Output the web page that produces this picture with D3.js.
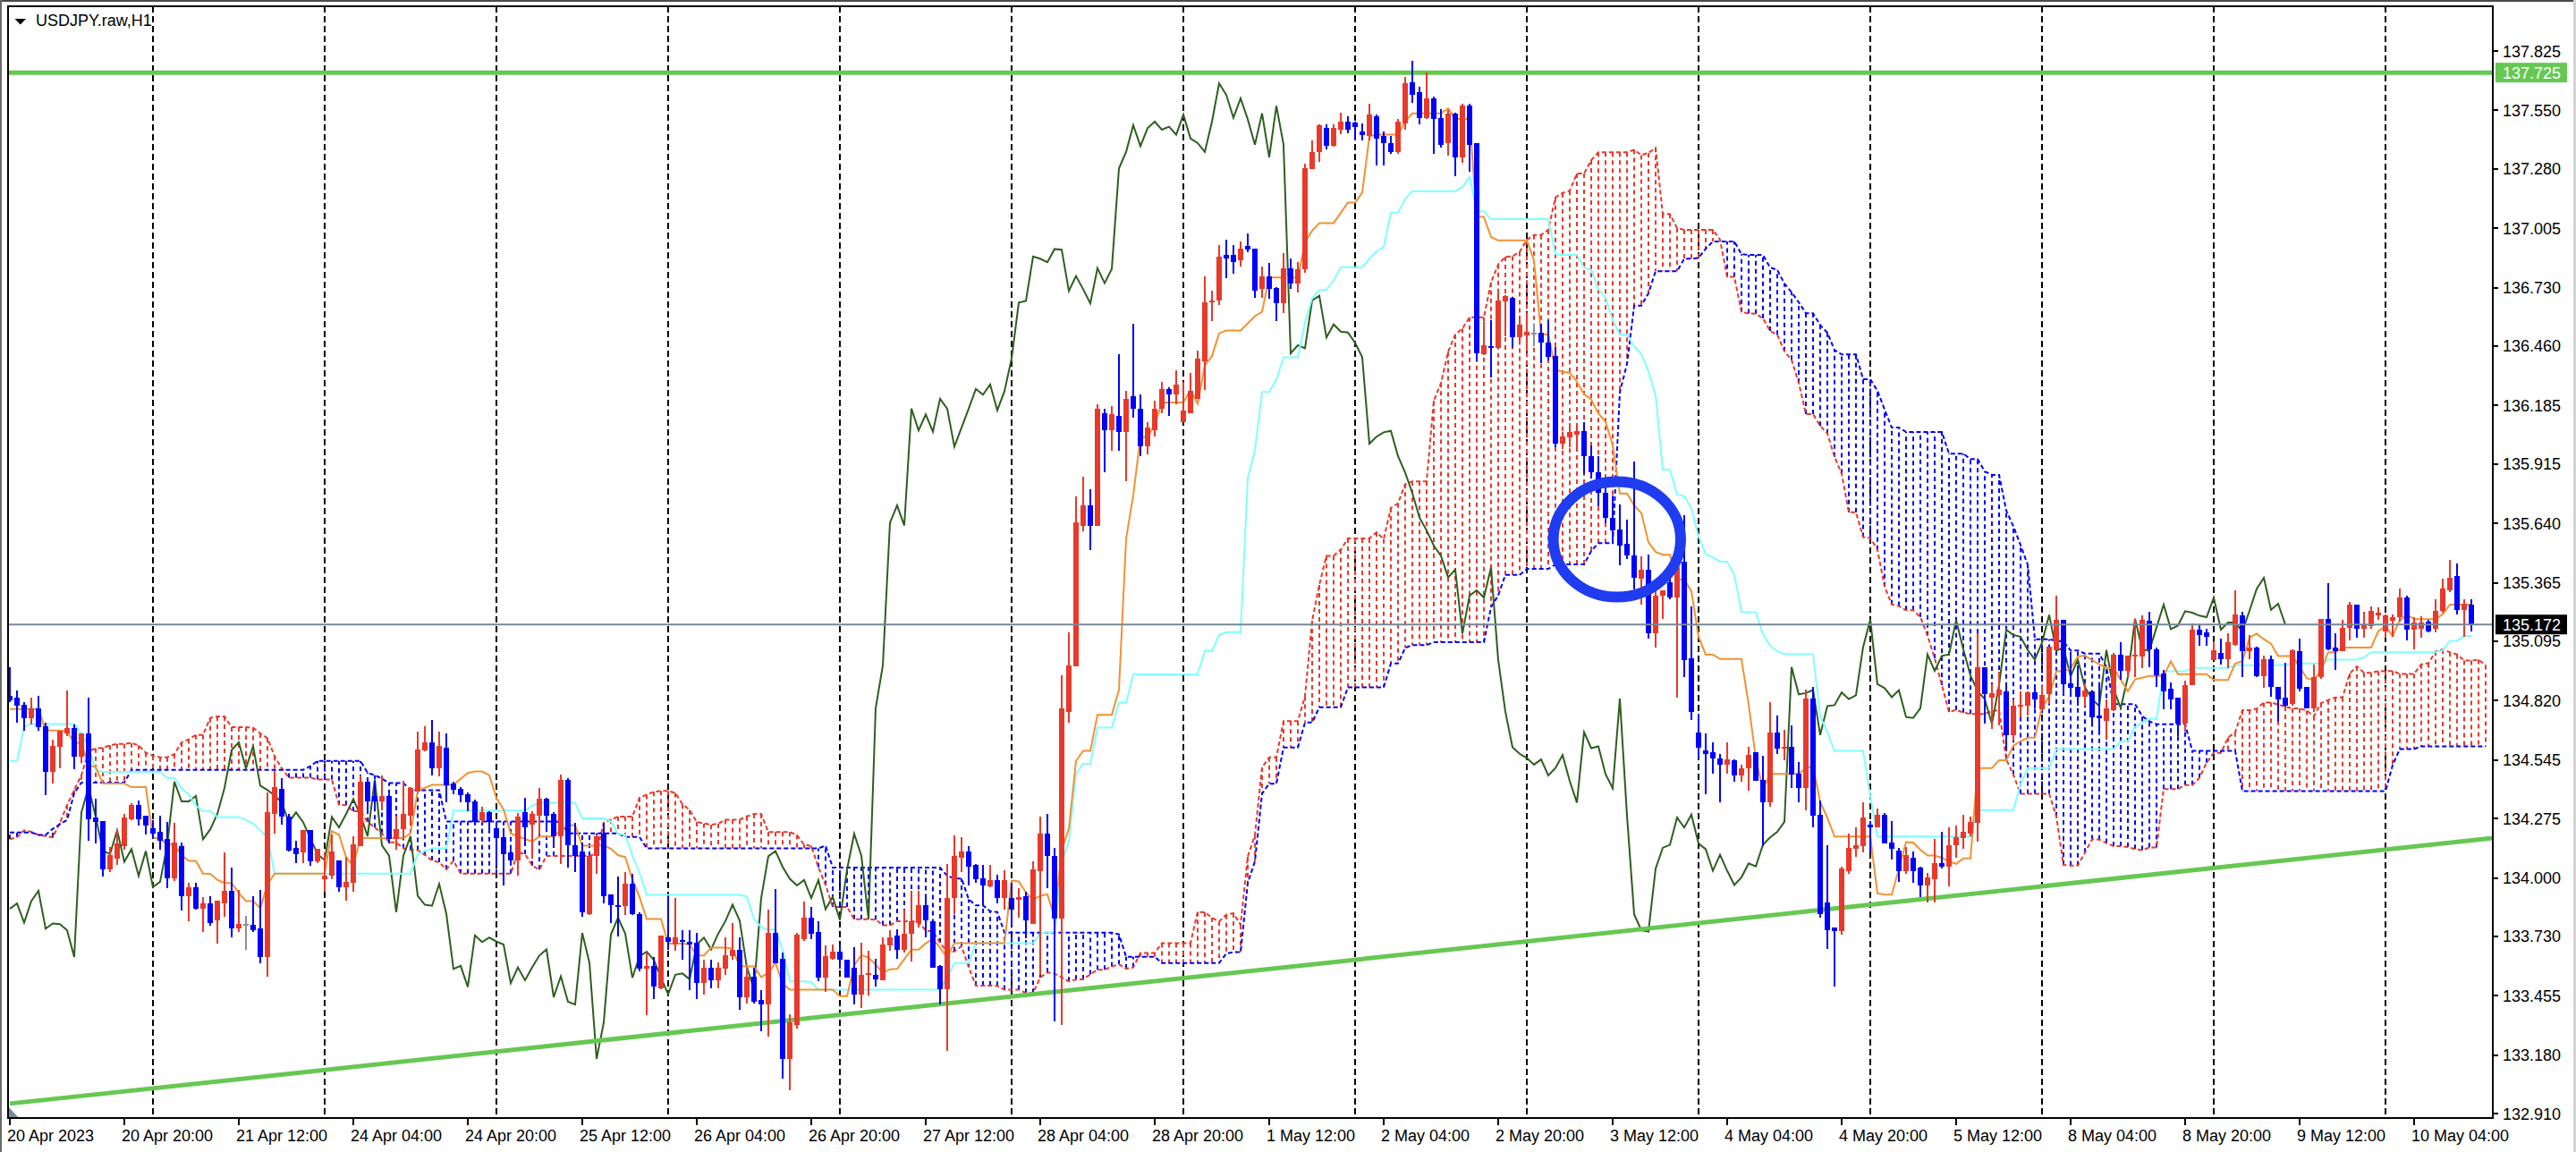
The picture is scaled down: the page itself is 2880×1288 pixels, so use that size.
<!DOCTYPE html>
<html>
<head>
<meta charset="utf-8">
<script src="https://cdn.jsdelivr.net/npm/d3@7"></script>
<style>
html, body { margin: 0; padding: 0; background: #ffffff; }
svg { display: block; }
text { font-family: "Liberation Sans", Arial, sans-serif; }
</style>
</head>
<body>
<svg id="chart" width="2880" height="1288"></svg>
<script>

// USDJPY H1, one value per bar, bar 0 = 20 Apr 2023 04:00
const opens = [
134.841,134.834,134.802,134.737,134.786,134.703,134.489,134.606,134.668,134.693,
134.561,134.668,134.278,134.261,134.041,134.089,134.147,134.271,134.337,134.286,
134.230,134.213,134.179,133.999,134.147,133.917,133.958,133.857,133.882,133.802,
133.882,133.940,133.765,133.786,133.783,133.765,133.634,134.296,134.410,134.282,
134.137,134.117,134.220,134.075,133.993,134.009,134.082,133.958,133.976,134.147,
134.445,134.379,134.354,134.379,134.179,134.224,134.289,134.399,134.588,134.627,
134.506,134.602,134.437,134.413,134.386,134.354,134.266,134.303,134.230,134.188,
134.117,134.082,134.303,134.248,134.289,134.365,134.296,134.193,134.455,134.151,
134.124,133.834,134.103,134.207,133.924,133.876,133.871,133.972,133.834,133.579,
133.593,133.489,133.724,133.692,133.714,133.706,133.700,133.513,133.586,133.527,
133.579,133.637,133.669,133.448,133.545,133.434,133.414,133.745,133.625,133.163,
133.320,133.717,133.816,133.751,133.538,133.627,133.659,133.620,133.586,133.462,
133.552,133.552,133.527,133.687,133.734,133.669,133.742,133.793,133.876,133.800,
133.593,133.485,133.907,134.092,134.124,134.059,134.000,133.962,133.990,133.907,
133.909,133.900,133.916,133.788,134.031,134.204,134.103,133.810,134.769,134.977,
135.630,135.723,135.630,136.150,136.070,136.136,136.064,136.229,136.171,135.995,
136.070,136.171,136.262,136.235,136.110,136.150,136.216,136.390,136.661,136.669,
136.882,136.882,136.856,136.922,136.909,136.723,136.784,136.730,136.657,136.820,
136.751,136.817,137.278,137.358,137.471,137.385,137.461,137.498,137.495,137.454,
137.433,137.523,137.433,137.399,137.358,137.489,137.682,137.633,137.516,137.606,
137.516,137.399,137.537,137.333,137.571,137.399,136.423,136.461,136.450,136.665,
136.685,136.500,136.510,136.523,136.523,136.475,136.413,136.009,136.036,136.050,
136.068,135.951,135.875,135.780,135.667,135.611,135.547,135.490,135.386,135.426,
135.130,135.306,135.366,135.296,135.462,135.015,134.674,134.588,134.580,134.554,
134.524,134.544,134.474,134.508,134.580,134.454,134.348,134.674,134.600,134.608,
134.484,134.414,134.829,134.293,133.887,133.772,133.752,134.033,134.133,134.147,
134.248,134.233,134.293,134.163,134.127,134.033,134.093,134.047,133.967,133.993,
134.067,134.053,134.153,134.183,134.203,134.253,134.975,134.835,134.845,134.861,
134.661,134.795,134.795,134.858,134.778,134.850,135.054,135.195,134.900,134.882,
134.836,134.864,134.751,134.726,134.776,135.034,134.958,135.027,135.024,135.189,
135.057,134.944,134.875,134.834,134.712,134.892,135.148,135.137,135.006,135.040,
135.010,135.079,135.213,135.051,135.065,134.933,135.010,134.882,134.834,134.806,
135.047,134.882,134.785,134.927,135.199,135.065,135.051,135.158,135.264,135.151,
135.164,135.213,135.140,135.189,135.206,135.296,135.148,135.154,135.185,135.151,
135.234,135.330,135.396,135.240,135.264]

const highs = [
134.974,134.868,134.813,134.834,134.841,134.717,134.641,134.682,134.868,134.710,
134.668,134.834,134.365,134.261,134.144,134.220,134.296,134.344,134.358,134.289,
134.268,134.286,134.257,134.255,134.165,133.979,133.979,133.910,133.917,133.893,
134.117,134.048,133.944,133.824,133.917,133.944,134.395,134.496,134.462,134.296,
134.172,134.220,134.220,134.133,134.117,134.199,134.082,134.096,134.193,134.475,
134.445,134.450,134.475,134.386,134.289,134.448,134.420,134.675,134.703,134.730,
134.675,134.668,134.445,134.420,134.395,134.362,134.330,134.307,134.257,134.230,
134.131,134.299,134.369,134.310,134.418,134.372,134.303,134.478,134.462,134.255,
134.165,134.103,134.200,134.255,133.924,134.007,134.027,134.020,133.841,133.655,
133.634,133.734,133.917,133.907,133.758,133.758,133.747,133.620,133.620,133.609,
133.724,133.793,133.724,133.579,133.586,133.483,133.855,133.949,133.655,133.369,
133.745,133.889,133.866,133.800,133.689,133.692,133.692,133.620,133.678,133.700,
133.662,133.627,133.724,133.758,133.761,133.852,133.940,133.940,133.924,133.803,
133.596,134.064,134.197,134.189,134.147,134.064,134.062,134.062,134.013,134.034,
133.978,133.951,133.938,134.076,134.284,134.297,134.138,134.937,135.137,135.763,
135.856,135.798,136.190,136.171,136.182,136.421,136.251,136.563,136.235,136.110,
136.208,136.296,136.270,136.349,136.296,136.336,136.437,136.784,136.715,136.928,
136.954,136.928,136.944,136.981,136.909,136.829,136.843,136.734,136.891,136.864,
136.850,137.305,137.413,137.484,137.484,137.484,137.540,137.523,137.498,137.489,
137.581,137.530,137.454,137.433,137.512,137.705,137.778,137.661,137.727,137.613,
137.558,137.553,137.540,137.581,137.581,137.399,136.572,136.578,136.710,136.696,
136.689,136.599,136.606,136.565,136.565,136.578,136.454,136.061,136.103,136.105,
136.110,135.999,135.950,135.810,135.767,135.727,135.657,135.924,135.486,135.497,
135.326,135.330,135.436,135.486,135.677,135.256,134.761,134.668,134.628,134.574,
134.628,134.548,134.524,134.608,134.580,134.564,134.815,134.749,134.684,134.704,
134.534,134.869,134.885,134.360,134.153,133.772,134.053,134.203,134.233,134.348,
134.263,134.320,134.300,134.263,134.139,134.143,134.123,134.053,134.023,134.179,
134.213,134.233,134.243,134.293,134.283,135.130,134.975,134.895,134.955,134.896,
134.827,134.861,134.861,134.896,134.892,135.071,135.305,135.195,135.024,134.983,
134.896,134.868,134.889,134.827,135.040,135.089,135.030,135.199,135.213,135.231,
135.065,134.961,134.905,134.834,134.914,135.178,135.171,135.151,135.093,135.107,
135.130,135.330,135.231,135.123,135.068,135.030,135.027,134.882,134.996,135.057,
135.107,134.882,134.988,135.199,135.365,135.130,135.195,135.278,135.264,135.231,
135.254,135.250,135.220,135.217,135.337,135.305,135.206,135.209,135.192,135.289,
135.382,135.471,135.454,135.289,135.289]

const lows = [
134.813,134.717,134.679,134.710,134.679,134.381,134.438,134.506,134.654,134.503,
134.530,134.172,134.158,134.006,134.027,134.062,134.131,134.268,134.241,134.199,
134.179,134.131,133.951,133.986,133.851,133.800,133.855,133.751,133.779,133.696,
133.820,133.724,133.751,133.669,133.751,133.604,133.544,134.206,134.248,134.124,
134.068,134.068,134.055,134.068,133.937,133.993,133.937,133.893,133.937,134.147,
134.317,134.317,134.313,134.158,134.131,134.186,134.241,134.399,134.586,134.475,
134.468,134.351,134.386,134.351,134.310,134.255,134.255,134.220,134.064,133.965,
134.062,134.009,134.165,134.089,134.200,134.227,134.151,134.064,134.048,134.027,
133.820,133.827,134.020,133.882,133.793,133.731,133.827,133.827,133.568,133.365,
133.438,133.485,133.669,133.662,133.620,133.483,133.438,133.462,133.489,133.489,
133.552,133.620,133.389,133.420,133.420,133.289,133.265,133.607,133.072,133.016,
133.303,133.710,133.717,133.521,133.472,133.623,133.579,133.538,133.414,133.397,
133.455,133.496,133.527,133.662,133.627,133.655,133.614,133.772,133.724,133.586,
133.414,133.200,133.834,134.027,133.965,133.979,133.876,133.958,133.882,133.855,
133.778,133.818,133.719,133.788,133.551,133.951,133.338,133.319,134.716,134.977,
135.603,135.515,135.630,135.878,135.976,135.976,135.835,136.128,135.950,135.958,
136.043,136.150,136.136,136.190,136.110,136.150,136.216,136.256,136.576,136.651,
136.776,136.795,136.829,136.896,136.683,136.683,136.677,136.574,136.613,136.723,
136.707,136.800,137.278,137.313,137.369,137.382,137.440,137.443,137.410,137.410,
137.413,137.295,137.295,137.351,137.351,137.461,137.585,137.484,137.512,137.351,
137.378,137.341,137.244,137.309,137.268,136.389,136.420,136.316,136.447,136.505,
136.450,136.475,136.434,136.461,136.381,136.392,135.992,135.985,135.992,135.992,
135.868,135.847,135.720,135.640,135.547,135.446,135.476,135.336,135.266,135.106,
135.065,135.196,135.290,134.835,134.929,134.729,134.554,134.388,134.484,134.348,
134.484,134.444,134.444,134.404,134.448,134.147,134.328,134.574,134.544,134.414,
134.348,134.314,134.233,133.818,133.672,133.498,133.738,134.019,134.099,134.119,
134.119,134.233,134.159,134.083,133.983,134.019,133.979,133.913,133.887,133.887,
134.043,133.959,134.093,134.133,134.193,134.167,134.715,134.689,134.704,134.606,
134.634,134.744,134.751,134.785,134.778,134.806,135.054,134.850,134.836,134.795,
134.792,134.709,134.671,134.638,134.772,134.916,134.930,134.930,134.972,134.974,
134.882,134.778,134.778,134.654,134.675,134.892,135.075,135.075,135.006,134.985,
134.972,135.075,134.930,135.013,134.930,134.878,134.836,134.723,134.792,134.795,
134.861,134.785,134.767,134.919,135.054,134.961,135.047,135.098,135.109,135.109,
135.151,135.192,135.109,135.116,135.185,135.098,135.057,135.109,135.134,135.137,
135.227,135.323,135.217,135.116,135.140]

const closes = [
134.820,134.795,134.737,134.786,134.696,134.489,134.610,134.679,134.692,134.561,
134.668,134.273,134.257,134.041,134.106,134.161,134.279,134.337,134.271,134.241,
134.206,134.172,133.999,134.165,133.917,133.958,133.857,133.882,133.793,133.893,
133.940,133.765,133.789,133.786,133.758,133.634,134.303,134.420,134.282,134.126,
134.110,134.220,134.075,134.133,134.009,134.124,133.958,133.982,134.154,134.445,
134.354,134.354,134.379,134.179,134.224,134.296,134.416,134.592,134.627,134.506,
134.610,134.427,134.406,134.382,134.348,134.257,134.303,134.257,134.183,134.110,
134.082,134.282,134.234,134.296,134.365,134.289,134.193,134.455,134.151,134.103,
133.841,134.103,134.193,133.917,133.876,133.871,133.972,133.834,133.579,133.593,
133.496,133.734,133.703,133.724,133.706,133.692,133.513,133.586,133.527,133.586,
133.641,133.669,133.448,133.545,133.427,133.414,133.745,133.607,133.163,133.331,
133.738,133.816,133.742,133.538,133.637,133.659,133.620,133.538,133.462,133.552,
133.558,133.531,133.692,133.724,133.669,133.742,133.800,133.876,133.802,133.586,
133.485,133.907,134.100,134.124,134.051,133.996,133.965,133.990,133.907,133.990,
133.855,133.912,133.805,134.039,134.204,134.103,133.810,134.785,134.982,135.643,
135.723,135.630,136.171,136.070,136.144,136.064,136.216,136.171,135.995,136.083,
136.171,136.262,136.235,136.283,136.163,136.251,136.403,136.661,136.669,136.874,
136.864,136.848,136.909,136.906,136.715,136.784,136.723,136.657,136.820,136.751,
136.817,137.282,137.358,137.482,137.385,137.468,137.498,137.461,137.475,137.438,
137.530,137.420,137.399,137.358,137.498,137.675,137.622,137.516,137.606,137.509,
137.392,137.537,137.333,137.571,137.392,136.427,136.464,136.450,136.671,136.693,
136.500,136.560,136.527,136.523,136.475,136.409,136.009,136.041,136.061,136.068,
135.951,135.875,135.780,135.667,135.607,135.537,135.490,135.390,135.426,135.130,
135.306,135.330,135.296,135.436,135.009,134.769,134.604,134.574,134.554,134.524,
134.548,134.474,134.508,134.568,134.448,134.348,134.674,134.600,134.608,134.480,
134.414,134.829,134.288,133.832,133.758,133.752,134.043,134.139,134.153,134.279,
134.233,134.293,134.159,134.133,134.033,134.107,134.033,133.967,134.003,134.067,
134.053,134.153,134.187,134.213,134.259,134.975,134.849,134.855,134.869,134.661,
134.795,134.799,134.858,134.827,134.845,135.068,135.195,134.896,134.878,134.836,
134.868,134.744,134.740,134.785,135.034,134.958,135.027,135.034,135.192,135.057,
134.937,134.864,134.827,134.712,134.892,135.148,135.123,135.116,135.054,135.010,
135.089,135.217,135.051,135.065,134.933,135.010,134.882,134.827,134.795,135.054,
134.875,134.785,134.930,135.199,135.057,135.051,135.158,135.264,135.151,135.167,
135.234,135.227,135.213,135.206,135.296,135.148,135.181,135.181,135.140,135.236,
135.337,135.388,135.240,135.268,135.172]

// Ichimoku values on the first bars, before the chart holds enough history
const tenkanEarly = [134.781,134.781,134.781,134.781,134.781,134.682,134.682,134.682]
const kijunEarly = [134.541,134.541,134.699,134.712,134.712,134.712,134.712,134.712,134.712,134.712,134.668,134.606,134.500]
const spanAEarly = [
134.179,134.188,134.220,134.213,134.199,134.193,134.188,134.255,134.337,134.406,
134.475,134.586,134.599,134.602,134.613,134.620,134.620,134.624,134.613,134.579,
134.565,134.558,134.558,134.572,134.627,134.641]
const spanBEarly = [
134.210,134.210,134.210,134.210,134.199,134.199,134.227,134.248,134.268,134.392,
134.441,134.441,134.441,134.441,134.441,134.441,134.441,134.500,134.500,134.500,
134.500,134.500,134.500,134.500,134.500,134.500,134.500,134.500,134.500,134.500,
134.500,134.500,134.500,134.500,134.500,134.500,134.500,134.500,134.500,134.500,
134.500,134.500,134.517,134.541,134.541,134.541,134.541,134.541,134.541,134.541,
134.486,134.475,134.459,134.439,134.439,134.439,134.406,134.406,134.406,134.406,
134.406,134.261,134.261,134.261,134.261,134.261,134.261,134.261,134.261,134.261,
134.261,134.261,134.261,134.261,134.261,134.261,134.261]

const priceTicks = ['137.825','137.550','137.280','137.005','136.730','136.460','136.185','135.915','135.640',
  '135.365','135.095','134.820','134.545','134.275','134.000','133.730','133.455','133.180','132.910']

const timeLabels = ['20 Apr 2023','20 Apr 20:00','21 Apr 12:00','24 Apr 04:00','24 Apr 20:00','25 Apr 12:00',
  '26 Apr 04:00','26 Apr 20:00','27 Apr 12:00','28 Apr 04:00','28 Apr 20:00','1 May 12:00','2 May 04:00',
  '2 May 20:00','3 May 12:00','4 May 04:00','4 May 20:00','5 May 12:00','8 May 04:00','8 May 20:00',
  '9 May 12:00','10 May 04:00']
const barsPerLabel = 16

// bars that open a new trading day (vertical grid)
const dayStartBars = [20,44,68,92,116,140,164,188,212,236,260,284,308,332]

const resistance = 137.725
const trendAnchors = [[0, 132.956], [347, 134.184]]
const lastPrice = 135.172
const marker = {bar: 224.6, price: 135.566, barRadius: 8.9, priceRadius: 0.267}

const RED = '#e8392b', BLUE = '#0000ff', GREEN = '#66c852'

const frame = {left: 9, top: 7, right: 2787, bottom: 1250}

const x = d3.scaleLinear().domain([0, 1]).range([11, 19])
const y = d3.scaleLinear().domain([132.910, 137.825]).range([1245, 57])

const svg = d3.select('#chart')

svg.append('defs').append('clipPath').attr('id', 'plot')
  .append('rect')
  .attr('x', frame.left).attr('y', frame.top)
  .attr('width', frame.right - frame.left).attr('height', frame.bottom - frame.top)

// window edges
svg.append('rect').attr('x', 0).attr('y', 0).attr('width', 2880).attr('height', 2).attr('fill', '#4a4a4a')
svg.append('rect').attr('x', 0).attr('y', 0).attr('width', 2).attr('height', 1288).attr('fill', '#6a6a6a')
svg.append('rect').attr('x', 2877).attr('y', 0).attr('width', 3).attr('height', 1288).attr('fill', '#d4d4d4')

const plot = svg.append('g').attr('clip-path', 'url(#plot)')

// grid
plot.append('g')
  .selectAll('line')
  .data(dayStartBars)
  .enter()
  .append('line')
  .attr('x1', d => x(d)).attr('x2', d => x(d))
  .attr('y1', frame.top).attr('y2', frame.bottom)
  .attr('stroke', '#000').attr('stroke-width', 2)
  .attr('stroke-dasharray', '7,4')

// ichimoku
const midRange = (from, to) => {
  let hi = -Infinity, lo = Infinity
  for (let j = from; j <= to; j++) {
    if (highs[j] > hi) hi = highs[j]
    if (lows[j] < lo) lo = lows[j]
  }
  return (hi + lo) / 2
}

const tenkan = closes.map((c, i) => i < tenkanEarly.length ? tenkanEarly[i] : midRange(i - 8, i))
const kijun = closes.map((c, i) => i < kijunEarly.length ? kijunEarly[i] : midRange(Math.max(0, i - 25), i))

const cloud = d3.range(0, 347).map(i => ({
  i: i,
  a: i < spanAEarly.length ? spanAEarly[i] : (tenkan[i - 26] + kijun[i - 26]) / 2,
  b: i < spanBEarly.length ? spanBEarly[i] : midRange(i - 77, i - 26)
}))

plot.append('g')
  .selectAll('line')
  .data(cloud)
  .enter()
  .append('line')
  .attr('x1', d => x(d.i)).attr('x2', d => x(d.i))
  .attr('y1', d => y(d.a)).attr('y2', d => y(d.b))
  .attr('stroke', d => d.a >= d.b ? RED : BLUE)
  .attr('stroke-width', 2)
  .attr('stroke-dasharray', '5,4')

const line = d3.line().x(d => x(d[0])).y(d => y(d[1]))

plot.append('path')
  .attr('d', line(cloud.map(d => [d.i, d.a])))
  .attr('fill', 'none').attr('stroke', RED).attr('stroke-width', 2).attr('stroke-dasharray', '5,3')

plot.append('path')
  .attr('d', line(cloud.map(d => [d.i, d.b])))
  .attr('fill', 'none').attr('stroke', BLUE).attr('stroke-width', 2).attr('stroke-dasharray', '5,3')

const chikou = d3.range(0, closes.length - 26).map(i => [i, closes[i + 26]])

plot.append('path')
  .attr('d', line(chikou))
  .attr('fill', 'none').attr('stroke', '#2d5f1e').attr('stroke-width', 2)

plot.append('path')
  .attr('d', line(kijun.map((v, i) => [i, v])))
  .attr('fill', 'none').attr('stroke', '#80ffff').attr('stroke-width', 2)

plot.append('path')
  .attr('d', line(tenkan.map((v, i) => [i, v])))
  .attr('fill', 'none').attr('stroke', '#f29232').attr('stroke-width', 2)

// drawn objects
plot.append('line')
  .attr('x1', frame.left).attr('x2', frame.right)
  .attr('y1', y(resistance)).attr('y2', y(resistance))
  .attr('stroke', GREEN).attr('stroke-width', 5)

plot.append('line')
  .attr('x1', x(trendAnchors[0][0])).attr('y1', y(trendAnchors[0][1]))
  .attr('x2', x(trendAnchors[1][0])).attr('y2', y(trendAnchors[1][1]))
  .attr('stroke', GREEN).attr('stroke-width', 5)

// candles
const bars = plot.append('g')
  .selectAll('g')
  .data(closes.map((c, i) => ({i: i, o: opens[i], h: highs[i], l: lows[i], c: c})))
  .enter()
  .append('g')
  .attr('shape-rendering', 'crispEdges')

const candleColour = d => Math.abs(d.c - d.o) < 0.0005 ? '#8591a0' : (d.c > d.o ? RED : BLUE)

bars.append('rect')
  .attr('x', d => x(d.i) - 1).attr('width', 2)
  .attr('y', d => y(d.h)).attr('height', d => Math.max(1, y(d.l) - y(d.h)))
  .attr('fill', candleColour)

bars.append('rect')
  .attr('x', d => x(d.i) - 3).attr('width', 6)
  .attr('y', d => y(Math.max(d.o, d.c)))
  .attr('height', d => Math.max(2, Math.abs(y(d.o) - y(d.c))))
  .attr('fill', candleColour)

// bid line
plot.append('line')
  .attr('x1', frame.left).attr('x2', frame.right)
  .attr('y1', y(lastPrice)).attr('y2', y(lastPrice))
  .attr('stroke', '#778899').attr('stroke-width', 2)

// the circled area
plot.append('ellipse')
  .attr('cx', x(marker.bar)).attr('cy', y(marker.price))
  .attr('rx', x(marker.barRadius) - x(0))
  .attr('ry', y(marker.price - marker.priceRadius) - y(marker.price))
  .attr('fill', 'none').attr('stroke', '#1f3cf0').attr('stroke-width', 12)

// small marker at the bottom-left corner
svg.append('path')
  .attr('d', `M10,1238 L10,1250 L21,1250 Z`)
  .attr('fill', '#7b8a9a')

// frame
svg.append('rect')
  .attr('x', frame.left).attr('y', frame.top)
  .attr('width', frame.right - frame.left).attr('height', frame.bottom - frame.top)
  .attr('fill', 'none').attr('stroke', '#000').attr('stroke-width', 2)

// price axis
const priceAxis = svg.append('g')

priceAxis.selectAll('line')
  .data(priceTicks)
  .enter()
  .append('line')
  .attr('x1', frame.right).attr('x2', frame.right + 6)
  .attr('y1', d => Math.round(y(+d))).attr('y2', d => Math.round(y(+d)))
  .attr('stroke', '#000').attr('stroke-width', 2)

priceAxis.selectAll('text')
  .data(priceTicks)
  .enter()
  .append('text')
  .attr('x', 2798).attr('y', d => y(+d) + 6.5)
  .attr('font-size', 18).attr('fill', '#000')
  .text(d => d)

const priceTag = (value, bg) => {
  svg.append('rect')
    .attr('x', 2790).attr('y', y(value) - 11)
    .attr('width', 80).attr('height', 22)
    .attr('fill', bg)
  svg.append('text')
    .attr('x', 2798).attr('y', y(value) + 6.5)
    .attr('font-size', 18).attr('fill', '#fff')
    .text(value.toFixed(3))
}
priceTag(resistance, GREEN)
priceTag(lastPrice, '#000')

// time axis
const timeAxis = svg.append('g')

timeAxis.selectAll('line')
  .data(timeLabels)
  .enter()
  .append('line')
  .attr('x1', (d, i) => x(i * barsPerLabel)).attr('x2', (d, i) => x(i * barsPerLabel))
  .attr('y1', frame.bottom).attr('y2', frame.bottom + 8)
  .attr('stroke', '#000').attr('stroke-width', 2)

timeAxis.selectAll('text')
  .data(timeLabels)
  .enter()
  .append('text')
  .attr('x', (d, i) => x(i * barsPerLabel) - 3).attr('y', 1276)
  .attr('font-size', 18).attr('fill', '#000')
  .text(d => d)

// title
svg.append('path')
  .attr('d', 'M16.5,21 L29,21 L22.75,27.5 Z')
  .attr('fill', '#000')

svg.append('text')
  .attr('x', 40).attr('y', 29)
  .attr('font-size', 18).attr('fill', '#000')
  .text('USDJPY.raw,H1')

</script>
</body>
</html>
